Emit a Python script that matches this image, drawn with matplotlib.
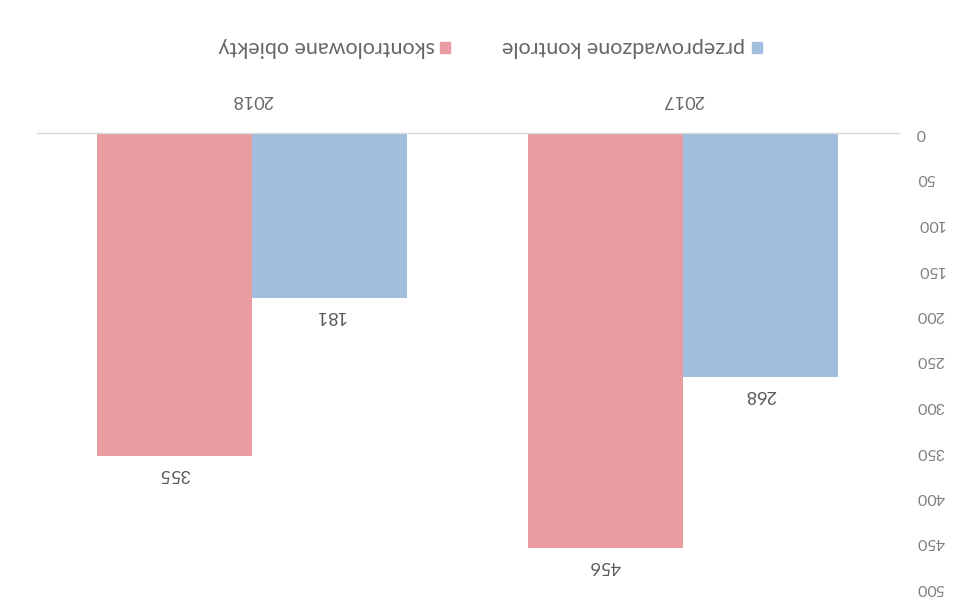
import numpy as np
import matplotlib.pyplot as plt
from matplotlib.patches import Rectangle

# the scanned chart is upside down, so everything is drawn rotated by 180 degrees
years = ["2017", "2018"]
series_names = ["przeprowadzone kontrole", "skontrolowane obiekty"]
kontrole = [268, 181]
obiekty = [456, 355]
colors = ["#a2bedf", "#e89c9f"]
text_col = "#595959"

plt.rcParams['font.family'] = ['Lato', 'DejaVu Sans']

fig = plt.figure(figsize=(9.67, 6.14), dpi=100)
ax = fig.add_axes([36.5 / 967, 1 - 588 / 614, 862 / 967, 455 / 614])

x = np.arange(len(years))
w = 0.36
# x axis is reversed, so the first series sits on the right of each group
ax.bar(x - w / 2, kontrole, w, color=colors[0], zorder=2)
ax.bar(x + w / 2, obiekty, w, color=colors[1], zorder=2)

for xi, v in zip(x - w / 2, kontrole):
    ax.text(xi, v + 20, str(v), rotation=180, ha="center", va="center",
            fontsize=13, color=text_col)
for xi, v in zip(x + w / 2, obiekty):
    ax.text(xi, v + 20, str(v), rotation=180, ha="center", va="center",
            fontsize=13, color=text_col)

ax.set_xlim(1.5, -0.5)
ax.set_ylim(500, 0)
ax.set_yticks(np.arange(0, 501, 50))
ax.yaxis.tick_right()
ax.tick_params(axis="y", length=0, pad=13, labelsize=11.5, labelcolor="#7f7f7f",
               labelrotation=180)
for lab in ax.get_yticklabels():
    lab.set_verticalalignment("center")
ax.xaxis.tick_top()
ax.set_xticks(x)
ax.set_xticklabels(years)
ax.tick_params(axis="x", length=0, pad=18, labelsize=13, labelcolor="#666666",
               labelrotation=180)

for s in ["left", "right", "bottom"]:
    ax.spines[s].set_visible(False)
ax.spines["top"].set_color("#d9d9d9")
ax.spines["top"].set_linewidth(1)

# legend drawn by hand so the text can be upside down
legend_y = 1 - 47 / 614
items = [(757, 745, series_names[0], colors[0]), (445, 435, series_names[1], colors[1])]
for sq_x, tx, name, c in items:
    fig.patches.append(Rectangle((sq_x / 967 - 0.005, legend_y - 0.01), 0.01, 0.018,
                                 transform=fig.transFigure, color=c))
    fig.text(tx / 967, legend_y, name, rotation=180, ha="right", va="center",
             fontsize=15.5, color="#666666")

fig.savefig("out.png", dpi=100)
